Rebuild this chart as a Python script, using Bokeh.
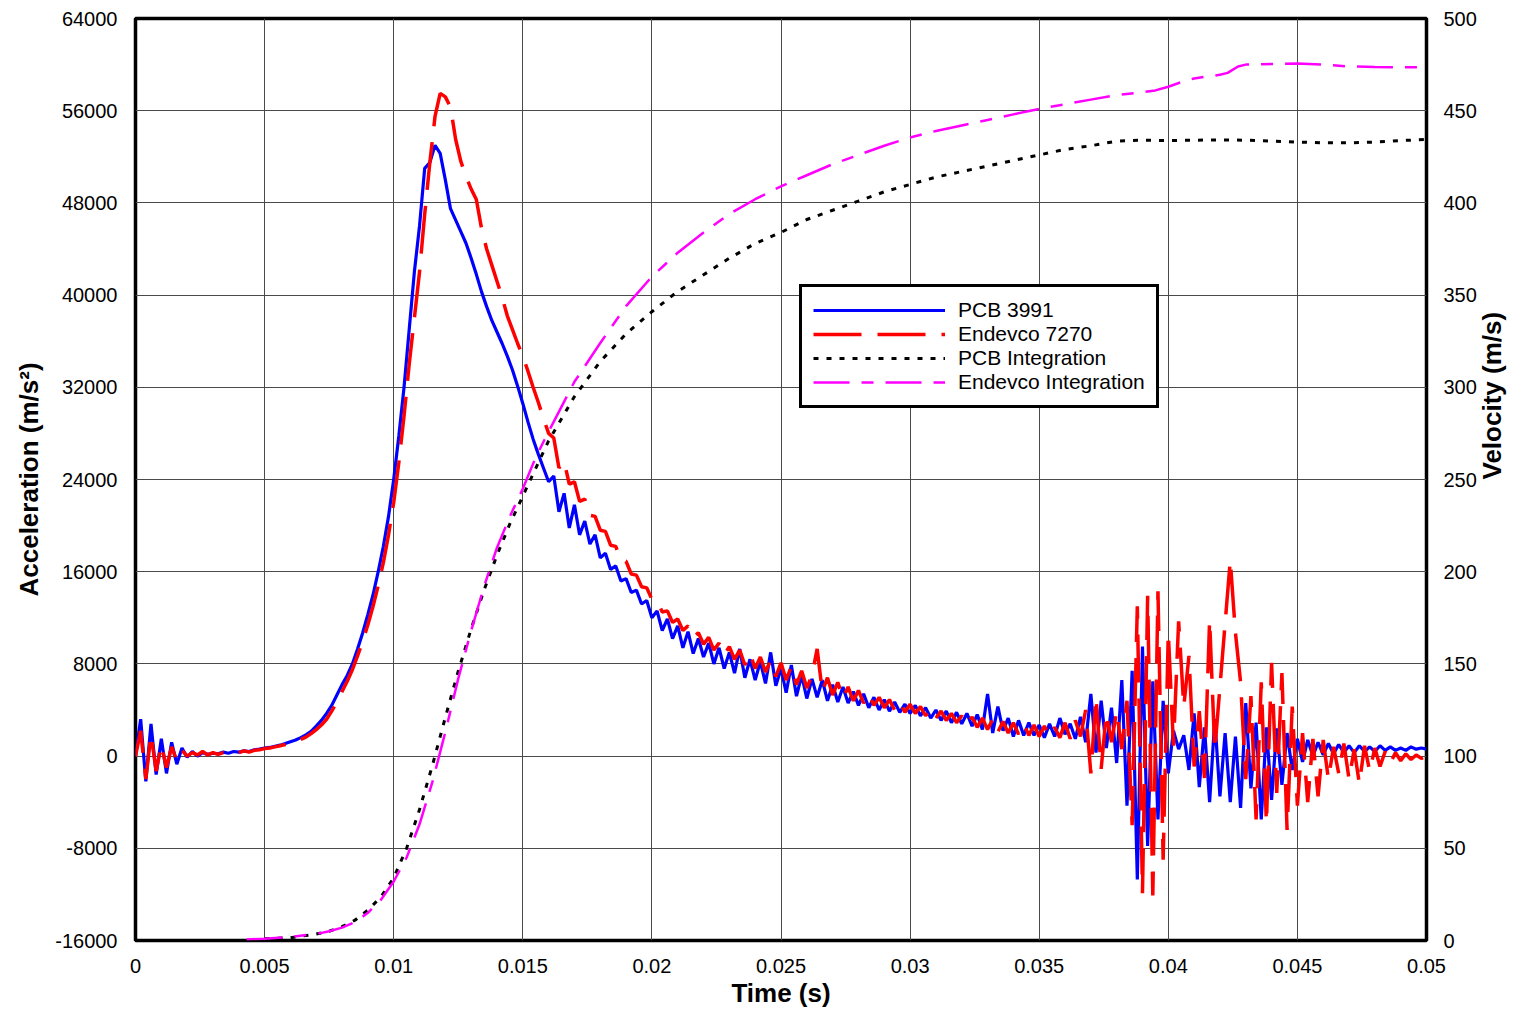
import math
from bokeh.plotting import figure
from bokeh.models import (Range1d, LinearAxis, FixedTicker, Legend, LegendItem)
from bokeh.embed import file_html
from bokeh.resources import INLINE

# ---------------- data ----------------
# acceleration sample times (s), 0.0002 s apart
time_s = [round(i * 0.0002, 4) for i in range(251)]

pcb_3991 = [
    0, 3200, -2200, 2800, -1600, 1500, -1500, 1200, -700, 700,
    -100, 400, 0, 300, 150, 250, 200, 350, 250, 400,
    350, 450, 400, 550, 600, 700, 750, 850, 950, 1100,
    1250, 1400, 1600, 1850, 2150, 2600, 3100, 3700, 4400, 5300,
    6200, 7000, 8000, 9300, 10700, 12300, 14000, 16000, 18200, 20800,
    24000, 27800, 32000, 37000, 42000, 46000, 51000, 51500, 53000, 52300,
    50000, 47500, 46500, 45500, 44500, 43200, 41800, 40300, 39000, 37800,
    36800, 35800, 34700, 33500, 32100, 30600, 29000, 27500, 26200, 25000,
    23800, 24300, 21200, 22800, 19800, 21800, 19200, 20400, 18400, 19200,
    17200, 17600, 16200, 16500, 15200, 15400, 14200, 14400, 13200, 13500,
    12000, 12600, 10900, 11900, 10200, 11300, 9400, 10800, 8900, 10200,
    8600, 9800, 8000, 9400, 7600, 9000, 7200, 9300, 6800, 8400,
    6600, 8200, 6300, 9000, 6100, 7600, 5500, 7900, 5200, 7000,
    5000, 6700, 5100, 6600, 4800, 6200, 4700, 6000, 4600, 5600,
    4400, 5400, 4200, 5100, 4000, 4900, 3900, 4700, 3800, 4500,
    3700, 4400, 3500, 4200, 3300, 4000, 3100, 3900, 2900, 3800,
    2800, 3700, 2600, 3600, 2300, 5400, 2000, 4300, 2200, 3300,
    1700, 3100, 1800, 2900, 1800, 2700, 1600, 2800, 1700, 3300,
    1900, 2800, 1500, 3400, 1200, 5400, 300, 4800, 700, 4200,
    -600, 6600, -4300, 7400, -10700, 9500, -7800, 6500, -5500, 4800,
    -1500, 2200, 600, 1800, -1200, 3700, -2700, 2500, -4000, 3200,
    -3500, 2000, -4000, 1700, -4500, 4600, -2800, 2900, -5500, 2500,
    -3800, 2400, -2500, 2000, -1200, 1500, -500, 1400, 0, 1200,
    100, 1100, 200, 1000, 300, 900, 300, 900, 400, 800,
    400, 900, 500, 800, 500, 700, 500, 800, 600, 700,
    600,
]

endevco_7270 = [
    0, 2200, -2000, 1900, -1300, 1000, -1000, 800, -400, 500,
    0, 300, 100, 400, 100, 300, 150, 300, 200, 350,
    300, 450, 350, 500, 550, 650, 700, 800, 900, 1000,
    1150, 1300, 1450, 1650, 1950, 2300, 2700, 3200, 3900, 4700,
    5600, 6500, 7500, 8700, 10000, 11400, 13000, 14800, 16800, 19200,
    22000, 25500, 29500, 34000, 38000, 42000, 47000, 51500, 55500, 57500,
    57200, 56300, 53500, 51600, 50300, 49200, 48300, 45800, 44000, 42600,
    41200, 39800, 38200, 37000, 35800, 34700, 33400, 32000, 30700, 29300,
    28000, 27600, 25000, 25600, 23600, 23800, 22100, 22300, 20900, 20800,
    19600, 19500, 18300, 18200, 17000, 16900, 15800, 15700, 14700, 14600,
    13600, 13500, 12500, 12600, 11600, 11900, 10900, 11300, 10300, 10700,
    9700, 10300, 9200, 9800, 8800, 9500, 8400, 9200, 7900, 8900,
    7600, 8600, 7300, 8300, 6900, 8100, 6600, 7800, 6200, 7400,
    5900, 7000, 9300, 5600, 6800, 5300, 6400, 5000, 6000, 4800,
    5700, 4600, 5400, 4400, 5100, 4200, 4900, 4000, 4700, 3800,
    4500, 3700, 4300, 3500, 4100, 3300, 3900, 3100, 3700, 2900,
    3500, 2700, 3400, 2500, 3300, 2300, 3200, 2100, 3000, 2000,
    2900, 1900, 2800, 1800, 2700, 1700, 2600, 1700, 2500, 1600,
    2900, 1500, 3100, 1700, 4000, -1500, 5100, -1100, 3700, 1200,
    3900, 600, 4800, -6000, 13000, -11900, 13900, -12100, 14300, -9000,
    10700, 900, 11700, 4300, 8700, -900, 3900, -1900, 11800, 500,
    6000, 11500, 17000, 10700, 6400, -2000, 5200, -5500, 6400, -5800,
    8100, -3200, 7200, -6400, 4300, -4300, 2000, -4000, 1500, -3500,
    1400, -2000, 800, -1500, 1100, -2000, 600, -2400, 900, -1300,
    700, -900, 400, -600, 300, -400, 200, -300, 100, -200,
    0,
]

# integrated velocities (m/s)
pcb_int_t = [0.005, 0.006, 0.007, 0.0075, 0.008, 0.0085, 0.009, 0.0095, 0.01, 0.0105,
             0.011, 0.0115, 0.012, 0.0125, 0.013, 0.0135, 0.014, 0.0145, 0.015, 0.0155,
             0.016, 0.017, 0.018, 0.019, 0.02, 0.021, 0.022, 0.023, 0.024, 0.025,
             0.026, 0.027, 0.028, 0.029, 0.03, 0.031, 0.032, 0.033, 0.034, 0.035,
             0.036, 0.037, 0.038, 0.039, 0.04, 0.041, 0.042, 0.043, 0.044, 0.045,
             0.046, 0.047, 0.048, 0.049, 0.05]
pcb_int_v = [1, 1.5, 3.5, 5, 7.5, 11, 16.5, 23.5, 34, 50,
             71, 95, 121, 146, 169, 190, 209, 226, 241, 256,
             271, 295, 314, 329, 341, 352, 361, 370, 378, 384,
             391, 396, 401, 406, 410, 414, 417, 420, 423, 426,
             429, 431, 433.5, 434, 433.8, 434, 434.2, 434, 433.5, 433,
             432.6, 432.6, 433, 433.8, 434.4]

endevco_int_t = [0.0043, 0.005, 0.006, 0.007, 0.0075, 0.008, 0.0085, 0.009, 0.0095, 0.01,
                 0.0105, 0.011, 0.0115, 0.012, 0.0125, 0.013, 0.0135, 0.014, 0.0145, 0.015,
                 0.0155, 0.016, 0.017, 0.018, 0.019, 0.02, 0.021, 0.022, 0.023, 0.024,
                 0.025, 0.026, 0.027, 0.028, 0.029, 0.03, 0.031, 0.032, 0.033, 0.034,
                 0.035, 0.036, 0.037, 0.038, 0.039, 0.0395, 0.04, 0.0405, 0.041, 0.0415,
                 0.042, 0.0423, 0.0427, 0.043, 0.044, 0.045, 0.046, 0.047, 0.048, 0.049, 0.05]
endevco_int_v = [0.5, 1, 2, 3.5, 5, 7, 10, 15, 22, 32,
                 45, 63, 86, 113, 142, 168, 192, 213, 230, 245,
                 262, 276, 303, 324, 344, 360, 373, 384, 394, 402,
                 409, 415, 421, 426, 431, 435.5, 439, 442, 445, 448,
                 451, 453.5, 456, 458.5, 460, 461, 463, 465.5, 467.5, 468.5,
                 469.5, 470.5, 474, 475, 475.3, 475.6, 475, 474, 473.7, 473.6, 473.6]

x_ticks = [0, 0.005, 0.01, 0.015, 0.02, 0.025, 0.03, 0.035, 0.04, 0.045, 0.05]
x_tick_labels = ["0", "0.005", "0.01", "0.015", "0.02", "0.025", "0.03", "0.035", "0.04", "0.045", "0.05"]
acc_ticks = [-16000, -8000, 0, 8000, 16000, 24000, 32000, 40000, 48000, 56000, 64000]
acc_tick_labels = ["-16000", "-8000", "0", "8000", "16000", "24000", "32000", "40000", "48000", "56000", "64000"]
vel_ticks = [0, 50, 100, 150, 200, 250, 300, 350, 400, 450, 500]

# ---------------- figure ----------------
FONT = "Liberation Sans"
W, H = 1524, 1011
p = figure(width=W, height=H, output_backend="svg", toolbar_location=None,
           x_range=Range1d(0, 0.05), y_range=Range1d(-16000, 64000),
           min_border_left=135, min_border_right=W - 1426, min_border_top=18,
           min_border_bottom=H - 940)
p.extra_y_ranges = {"vel": Range1d(0, 500)}

p.background_fill_color = "white"
p.border_fill_color = "white"
p.outline_line_color = "black"
p.outline_line_width = 3.5

# grids
p.xgrid.ticker = FixedTicker(ticks=x_ticks)
p.ygrid.ticker = FixedTicker(ticks=acc_ticks)
for g in (p.xgrid, p.ygrid):
    g.grid_line_color = "#4a4a4a"
    g.grid_line_width = 1

# axes
xa = p.xaxis[0]
xa.ticker = FixedTicker(ticks=x_ticks)
xa.major_label_overrides = {k: v for k, v in zip(x_ticks, x_tick_labels)}
xa.axis_label = "Time (s)"

ya = p.yaxis[0]
ya.ticker = FixedTicker(ticks=acc_ticks)
ya.major_label_overrides = {k: v for k, v in zip(acc_ticks, acc_tick_labels)}
ya.axis_label = "Acceleration (m/s\u00b2)"

ra = LinearAxis(y_range_name="vel", ticker=FixedTicker(ticks=vel_ticks),
                axis_label="Velocity (m/s)")
p.add_layout(ra, "right")
if "axis_label_orientation" in ra.properties():
    ra.axis_label_orientation = math.pi / 2

for ax in (xa, ya, ra):
    ax.axis_line_color = None
    ax.major_tick_line_color = None
    ax.minor_tick_line_color = None
    ax.major_label_text_font = FONT
    ax.major_label_text_font_size = "20px"
    ax.major_label_text_color = "black"
    ax.axis_label_text_font = FONT
    ax.axis_label_text_font_style = "bold"
    ax.axis_label_text_font_size = "26px"
    ax.axis_label_text_color = "black"
xa.major_label_standoff = 12
xa.axis_label_standoff = 2
ya.major_label_standoff = 12
ya.axis_label_standoff = 8
ra.major_label_standoff = 11
ra.axis_label_standoff = 12

# data lines
r_pcb = p.line(time_s, pcb_3991, line_color="#0000ff", line_width=3.2)
r_end = p.line(time_s, endevco_7270, line_color="#ff0000", line_width=3.5, line_dash="48 16")
r_pint = p.line(pcb_int_t, pcb_int_v, y_range_name="vel", line_color="black",
                line_width=3, line_dash="5 8")
r_eint = p.line(endevco_int_t, endevco_int_v, y_range_name="vel", line_color="#ff00ff",
                line_width=2.5, line_dash="36 12 12 12")

legend = Legend(items=[
    LegendItem(label="PCB 3991", renderers=[r_pcb]),
    LegendItem(label="Endevco 7270", renderers=[r_end]),
    LegendItem(label="PCB Integration", renderers=[r_pint]),
    LegendItem(label="Endevco Integration", renderers=[r_eint]),
], location=(664, 532))
legend.glyph_width = 132
legend.glyph_height = 20
legend.label_height = 20
legend.spacing = 0
legend.padding = 11
legend.margin = 0
legend.label_standoff = 13
legend.label_text_font = FONT
legend.label_text_font_size = "21px"
legend.label_text_color = "black"
legend.border_line_color = "black"
legend.border_line_alpha = 1.0
legend.border_line_width = 3
legend.background_fill_color = "white"
legend.background_fill_alpha = 1.0
p.add_layout(legend, "center")

open("out.html", "w").write(file_html(p, INLINE))
